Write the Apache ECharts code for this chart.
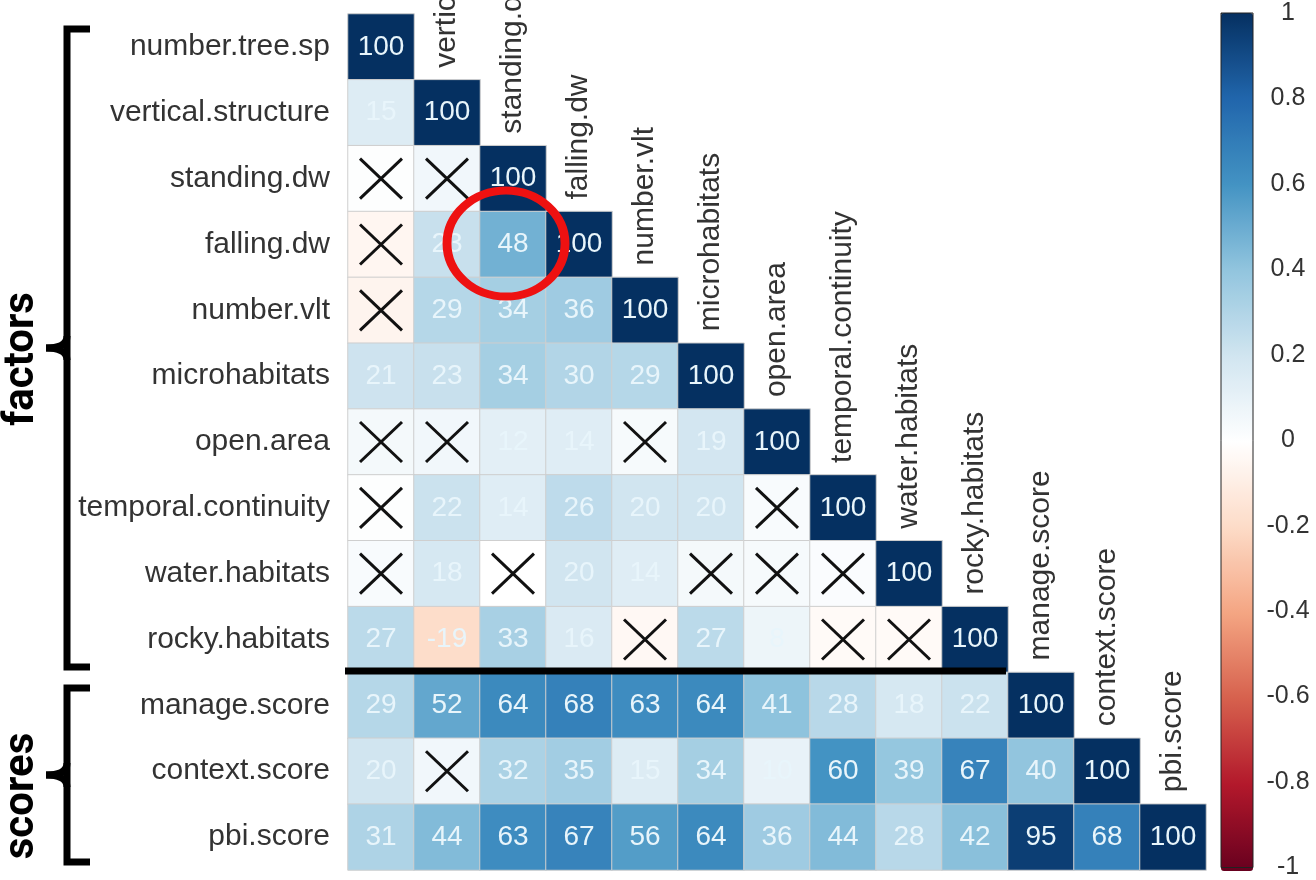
<!DOCTYPE html>
<html><head><meta charset="utf-8">
<script src="https://cdn.jsdelivr.net/npm/echarts@6/dist/echarts.min.js"></script>
<style>html,body{margin:0;padding:0;background:#fff}#c{width:1316px;height:880px}</style>
</head><body><div id="c"></div>
<script>
// Variable names (rows top to bottom, columns left to right)
const varNames = ['number.tree.sp','vertical.structure','standing.dw','falling.dw','number.vlt','microhabitats','open.area','temporal.continuity','water.habitats','rocky.habitats','manage.score','context.score','pbi.score'];

// Lower-triangle correlations (x100), one array per row
const corrRows = [
  [100],
  [15, 100],
  [1, 6, 100],
  [-5, 23, 48, 100],
  [-6, 29, 34, 36, 100],
  [21, 23, 34, 30, 29, 100],
  [5, 6, 12, 14, 4, 19, 100],
  [1, 22, 14, 26, 20, 20, 3, 100],
  [3, 18, 0, 20, 14, 5, 4, 2, 100],
  [27, -19, 33, 16, -4, 27, 8, -3, -3, 100],
  [29, 52, 64, 68, 63, 64, 41, 28, 18, 22, 100],
  [20, 6, 32, 35, 15, 34, 10, 60, 39, 67, 40, 100],
  [31, 44, 63, 67, 56, 64, 36, 44, 28, 42, 95, 68, 100]
];

// Non-significant cells, as [row, col]
const insignificant = [[2,0],[2,1],[3,0],[4,0],[6,0],[6,1],[6,4],[7,0],[7,6],[8,0],[8,2],[8,5],[8,6],[8,7],[9,4],[9,7],[9,8],[11,1]];

// Colour ramp (corrplot RdBu)
const rampColors = ['#67001F','#B2182B','#D6604D','#F4A582','#FDDBC7','#FFFFFF','#D1E5F0','#92C5DE','#4393C3','#2166AC','#053061'];

const isInsig = (r, c) => insignificant.some(p => p[0] === r && p[1] === c);

const heatData = [];
corrRows.forEach((row, r) => {
  row.forEach((v, c) => {
    heatData.push({ value: [c, r, v], label: { show: !isInsig(r, c) } });
  });
});
const crossData = insignificant.map(p => [p[1], p[0]]);
const diagData = varNames.map((n, i) => [i, i]);

const FONT = 'Liberation Sans, Arial, sans-serif';
const chart = echarts.init(document.getElementById('c'), null, { renderer: 'canvas' });

function bracket(top, mid, bottom) {
  return [
    { type: 'polyline', z: 100, shape: { points: [[90, top], [67, top], [67, bottom], [90, bottom]] },
      style: { stroke: '#000', lineWidth: 7, fill: null } },
    { type: 'bezierCurve', z: 100, shape: { x1: 67, y1: mid - 12, cpx1: 67, cpy1: mid, x2: 46, y2: mid },
      style: { stroke: '#000', lineWidth: 7, fill: null } },
    { type: 'bezierCurve', z: 100, shape: { x1: 67, y1: mid + 12, cpx1: 67, cpy1: mid, x2: 46, y2: mid },
      style: { stroke: '#000', lineWidth: 7, fill: null } }
  ];
}

chart.setOption({
  animation: false,
  backgroundColor: '#ffffff',
  grid: [
    { left: 348, top: 14, width: 858, height: 856 },
    { left: 1221, top: 13, width: 32, height: 858, show: true, borderColor: '#222', borderWidth: 1, backgroundColor: 'transparent', z: 6 }
  ],
  xAxis: [
    { type: 'category', data: varNames, gridIndex: 0, show: false },
    { type: 'value', gridIndex: 1, show: false, min: 0, max: 1 }
  ],
  yAxis: [
    { type: 'category', data: varNames, gridIndex: 0, inverse: true,
      axisLine: { show: false }, axisTick: { show: false }, splitLine: { show: false },
      axisLabel: { fontSize: 30, color: '#333', fontFamily: FONT, margin: 18 } },
    { type: 'value', gridIndex: 1, min: -1, max: 1, interval: 0.2, position: 'right',
      axisLine: { show: false }, splitLine: { show: false },
      axisTick: { show: true, length: 6, lineStyle: { color: '#222', width: 1 } },
      axisLabel: { fontSize: 25, color: '#333', fontFamily: FONT, align: 'center', margin: 35 } }
  ],
  visualMap: {
    type: 'continuous', min: -100, max: 100, seriesIndex: 0, dimension: 2,
    orient: 'vertical', left: 1221, top: 13, itemWidth: 32, itemHeight: 858,
    calculable: false, padding: 0, hoverLink: false,
    inRange: { color: rampColors }
  },
  series: [
    {
      type: 'heatmap', xAxisIndex: 0, yAxisIndex: 0, data: heatData,
      itemStyle: { borderColor: '#cfcfcf', borderWidth: 1 },
      label: { show: true, color: '#e8f5fb', fontSize: 28, fontFamily: FONT,
        formatter: p => String(p.value[2]) }
    },
    {
      type: 'custom', xAxisIndex: 0, yAxisIndex: 0, data: crossData, z: 5,
      renderItem: (params, api) => {
        const p = api.coord([api.value(0), api.value(1)]);
        const dx = 21, dy = 20;
        return { type: 'group', children: [
          { type: 'line', shape: { x1: p[0]-dx, y1: p[1]-dy, x2: p[0]+dx, y2: p[1]+dy }, style: { stroke: '#111', lineWidth: 3 } },
          { type: 'line', shape: { x1: p[0]-dx, y1: p[1]+dy, x2: p[0]+dx, y2: p[1]-dy }, style: { stroke: '#111', lineWidth: 3 } }
        ]};
      }
    },
    {
      type: 'custom', xAxisIndex: 0, yAxisIndex: 0, data: diagData, z: 5,
      renderItem: (params, api) => {
        const i = api.value(0);
        const p = api.coord([i, i]);
        const s = api.size([1, 1]);
        return { type: 'text', x: p[0], y: p[1] - s[1] / 2 - 12, rotation: Math.PI / 2,
          style: { text: varNames[i], fill: '#333', font: '30px ' + FONT, align: 'left', verticalAlign: 'middle' } };
      }
    }
  ],
  graphic: [].concat(
    bracket(29, 348, 667),
    bracket(688, 775, 862),
    [
      { type: 'text', z: 100, x: 22, y: 359, rotation: Math.PI / 2,
        style: { text: 'factors', font: 'bold 42px Roboto', fill: '#000', align: 'center', verticalAlign: 'middle' } },
      { type: 'text', z: 100, x: 22, y: 796, rotation: Math.PI / 2,
        style: { text: 'scores', font: 'bold 42px Roboto', fill: '#000', align: 'center', verticalAlign: 'middle' } },
      { type: 'line', z: 100, shape: { x1: 345, y1: 671, x2: 1006, y2: 671 }, style: { stroke: '#000', lineWidth: 7 } },
      { type: 'circle', z: 100, x: 506, y: 243.5, scaleX: 59 / 53, scaleY: 1, shape: { cx: 0, cy: 0, r: 53 },
        style: { stroke: '#ee1111', lineWidth: 8, fill: null, strokeNoScale: true } }
    ]
  )
});
</script>
</body></html>
